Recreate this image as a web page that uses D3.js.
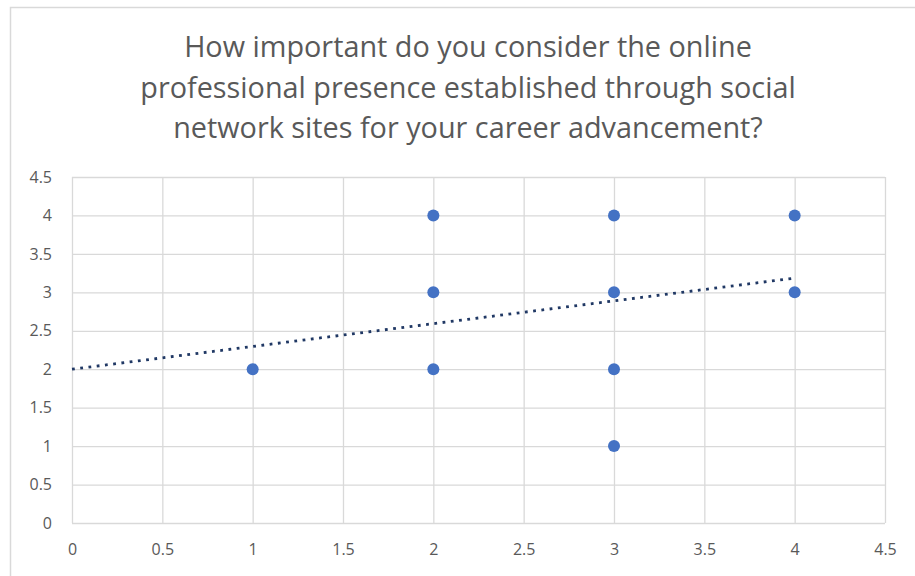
<!DOCTYPE html>
<html>
<head>
<meta charset="utf-8">
<script src="https://cdn.jsdelivr.net/npm/d3@7"></script>
<style>
  body { margin: 0; background: #fff; }
  svg { display: block; font-family: "Open Sans", sans-serif; }
  .tick text { fill: #595959; font-size: 16px; }
  .grid line { stroke: #d9d9d9; stroke-width: 1.3; }
  .title { fill: #595959; font-size: 28.8px; }
</style>
</head>
<body>
<div id="chart"></div>
<script>
// survey responses (x, y)
var xValues = [1, 2, 2, 2, 3, 3, 3, 3, 4, 4];
var yValues = [2, 4, 3, 2, 4, 3, 2, 1, 4, 3];
var tickValues = [0, 0.5, 1, 1.5, 2, 2.5, 3, 3.5, 4, 4.5];
var titleLines = [
  "How important do you consider the online",
  "professional presence established through social",
  "network sites for your career advancement?"
];

var svgWidth = 915;
var svgHeight = 576;
var margin = { top: 177, right: 30, bottom: 53, left: 72 };
var width = svgWidth - margin.left - margin.right;
var height = svgHeight - margin.top - margin.bottom;

var svg = d3.select("#chart")
  .append("svg")
  .attr("width", svgWidth)
  .attr("height", svgHeight);

// chart frame
svg.append("rect")
  .attr("x", 10.5)
  .attr("y", 7.5)
  .attr("width", svgWidth + 10)
  .attr("height", svgHeight + 10)
  .attr("fill", "none")
  .attr("stroke", "#d9d9d9")
  .attr("stroke-width", 1.5);

// title
svg.append("text")
  .attr("class", "title")
  .attr("text-anchor", "middle")
  .selectAll("tspan")
  .data(titleLines)
  .enter()
  .append("tspan")
  .attr("x", 468)
  .attr("y", (d, i) => 57 + i * 40.5)
  .text(d => d);

var chartGroup = svg.append("g")
  .attr("transform", `translate(${margin.left}, ${margin.top})`);

var xScale = d3.scaleLinear().domain([0, 4.5]).range([0, width]);
var yScale = d3.scaleLinear().domain([0, 4.5]).range([height, 0]);

// gridlines + labels
var xAxis = chartGroup.append("g")
  .attr("class", "grid")
  .attr("transform", `translate(0, ${height})`)
  .call(d3.axisBottom(xScale).tickValues(tickValues).tickSize(-height).tickPadding(21).tickFormat(d3.format("")));
xAxis.select(".domain").remove();

var yAxis = chartGroup.append("g")
  .attr("class", "grid")
  .call(d3.axisLeft(yScale).tickValues(tickValues).tickSize(-width).tickPadding(20).tickFormat(d3.format("")));
yAxis.select(".domain").remove();

chartGroup.selectAll(".tick text").attr("font-family", "Open Sans");

// linear trendline (least squares), drawn from x=0 to max x
var mx = d3.mean(xValues), my = d3.mean(yValues);
var sxy = d3.sum(xValues, (x, i) => (x - mx) * (yValues[i] - my));
var sxx = d3.sum(xValues, x => (x - mx) * (x - mx));
var slope = sxy / sxx;
var intercept = my - slope * mx;
var trendX = [0, d3.max(xValues)];

chartGroup.append("path")
  .datum(trendX)
  .attr("fill", "none")
  .attr("stroke", "#203864")
  .attr("stroke-width", 2.8)
  .attr("stroke-dasharray", "2.8 5.5")
  .attr("d", d3.line().x(d => xScale(d)).y(d => yScale(intercept + slope * d)));

// points
chartGroup.selectAll("circle")
  .data(xValues)
  .enter()
  .append("circle")
  .attr("cx", d => xScale(d))
  .attr("cy", (d, i) => yScale(yValues[i]))
  .attr("r", 6)
  .attr("fill", "#4472c4");
</script>
</body>
</html>
